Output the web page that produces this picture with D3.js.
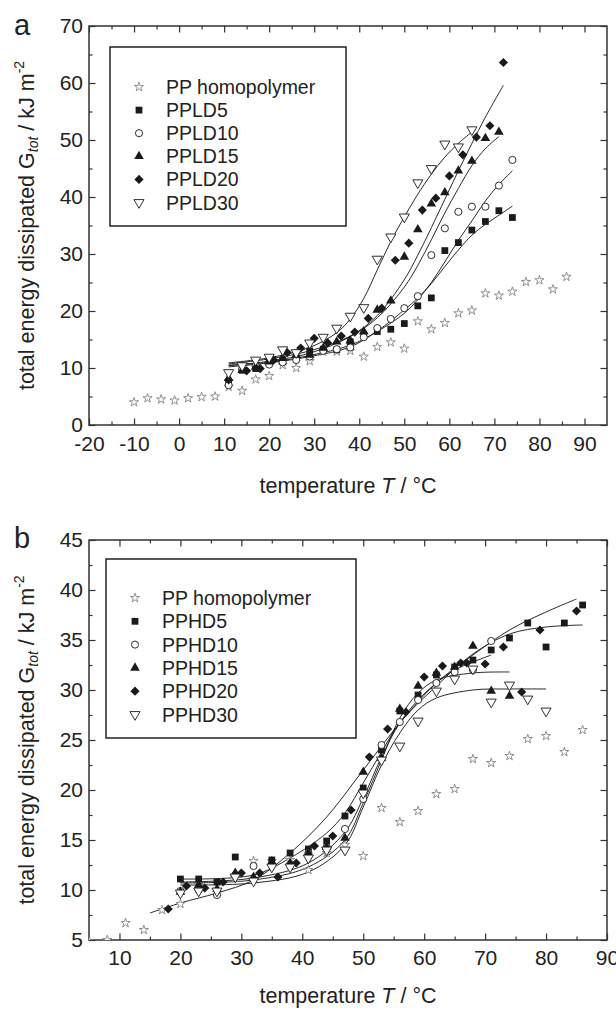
<!DOCTYPE html>
<html>
<head>
<meta charset="utf-8">
<script src="https://cdn.jsdelivr.net/npm/d3@7"></script>
<style>
  body { margin: 0; background: #fff; }
  svg { display: block; }
  text { font-family: "Liberation Sans", Arial, sans-serif; fill: #222; }
</style>
</head>
<body>
<script>
var width = 616;
var height = 1012;

// PP homopolymer (shown in both panels)
var ppT = [-10, -7, -4, -1, 2, 5, 8, 11, 14, 17, 20, 23, 26, 29, 32, 35, 38, 41, 44, 47, 50, 53, 56, 59, 62, 65, 68, 71, 74, 77, 80, 83, 86];
var ppG = [4.0, 4.7, 4.5, 4.3, 4.7, 4.9, 5.0, 6.7, 6.0, 8.0, 8.6, 10.5, 10.0, 11.2, 12.9, 12.9, 13.0, 12.0, 13.7, 14.5, 13.4, 18.2, 16.8, 17.9, 19.6, 20.1, 23.1, 22.7, 23.4, 25.1, 25.4, 23.8, 26.0];

// panel a - PPLD blends
var ld5T = [11, 14, 17, 20, 23, 26, 29, 32, 35, 38, 41, 44, 47, 50, 53, 56, 59, 62, 65, 68, 71, 74];
var ld5G = [7.6, 9.6, 9.9, 11.1, 11.4, 12.0, 13.0, 13.3, 13.2, 14.6, 15.8, 16.4, 16.8, 17.8, 20.9, 22.3, 30.6, 32.0, 34.2, 35.7, 37.6, 36.4];
var ld10T = [11, 14, 17, 20, 23, 26, 29, 32, 35, 38, 41, 44, 47, 50, 53, 56, 59, 62, 65, 68, 71, 74];
var ld10G = [7.0, 9.8, 10.4, 10.6, 11.0, 11.4, 12.0, 13.0, 13.3, 13.6, 15.4, 17.0, 18.6, 20.5, 22.6, 29.8, 34.5, 37.4, 38.3, 38.3, 42.0, 46.5];
var ld15T = [11, 14, 17, 20, 23, 26, 29, 32, 35, 38, 41, 44, 47, 50, 53, 56, 59, 62, 65, 68, 71];
var ld15G = [8.2, 9.6, 10.2, 11.1, 11.7, 12.3, 12.3, 13.5, 14.6, 14.8, 16.4, 20.2, 21.8, 29.5, 34.3, 38.8, 40.8, 44.6, 46.3, 50.3, 51.4];
var ld20T = [11, 15, 18, 21, 24, 27, 30, 33, 36, 39, 42, 45, 48, 51, 54, 57, 60, 63, 66, 69, 72];
var ld20G = [7.9, 9.5, 9.9, 11.4, 12.7, 13.5, 15.2, 14.4, 15.6, 16.3, 18.7, 20.5, 28.9, 31.9, 37.7, 39.8, 43.7, 47.4, 50.5, 52.5, 63.6];
var ld30T = [11, 14, 17, 20, 23, 26, 29, 32, 35, 38, 41, 44, 47, 50, 53, 56, 59, 62, 65];
var ld30G = [9.2, 10.4, 11.4, 11.9, 13.2, 12.7, 14.4, 15.4, 17.0, 19.1, 20.6, 29.1, 33.0, 36.5, 42.5, 45.0, 49.3, 48.8, 51.8];

// panel a - fitted curves
var ld5FitT = [11, 20, 29, 38, 44, 50, 53, 56, 59, 62, 65, 68, 71, 74];
var ld5FitG = [10.2, 10.9, 12.0, 13.7, 16.5, 20.2, 22.3, 24.8, 27.8, 30.7, 33.3, 35.2, 36.8, 38.4];
var ld10FitT = [11, 20, 29, 38, 44, 50, 53, 56, 59, 62, 65, 68, 71, 74];
var ld10FitG = [10.5, 11.0, 12.2, 14.0, 16.4, 19.6, 22.0, 25.0, 28.6, 32.4, 35.8, 39.3, 42.2, 44.6];
var ld15FitT = [11, 20, 29, 38, 44, 50, 53, 56, 59, 62, 65, 68, 71];
var ld15FitG = [10.4, 11.2, 12.6, 15.5, 18.8, 24.2, 28.0, 32.5, 37.2, 41.5, 45.5, 48.5, 50.6];
var ld20FitT = [11, 20, 29, 38, 44, 50, 53, 56, 59, 62, 65, 68, 72];
var ld20FitG = [10.7, 11.6, 13.0, 15.6, 19.2, 25.5, 29.8, 34.6, 39.6, 44.6, 49.4, 54.0, 59.6];
var ld30FitT = [11, 20, 29, 35, 38, 41, 44, 47, 50, 53, 56, 59, 62, 65];
var ld30FitG = [10.9, 11.8, 13.6, 16.2, 18.6, 22.2, 27.2, 32.2, 36.5, 40.5, 44.0, 47.0, 49.4, 51.4];

// panel b - PPHD blends
var hd5T = [20, 23, 26, 29, 35, 38, 41, 44, 47, 50, 53, 56, 59, 62, 65, 68, 71, 74, 77, 80, 83, 86];
var hd5G = [11.1, 11.1, 10.8, 13.3, 13.0, 13.7, 14.1, 14.9, 17.4, 20.2, 24.0, 27.9, 29.5, 31.5, 32.3, 33.0, 34.0, 35.2, 36.7, 34.3, 36.7, 38.5];
var hd10T = [20, 23, 26, 29, 32, 35, 38, 41, 44, 47, 50, 53, 56, 59, 62, 65, 68, 71];
var hd10G = [9.9, 10.0, 9.5, 11.5, 12.4, 12.5, 12.5, 13.7, 14.3, 16.1, 19.1, 24.5, 26.8, 29.0, 30.7, 31.8, 32.0, 34.9];
var hd15T = [20, 23, 26, 29, 32, 35, 38, 41, 44, 47, 50, 53, 56, 59, 62, 65, 68, 71, 74];
var hd15G = [9.8, 10.5, 10.1, 11.7, 11.3, 12.8, 12.7, 13.7, 14.3, 15.2, 21.8, 23.2, 28.1, 30.4, 31.7, 32.3, 34.4, 29.9, 29.4];
var hd20T = [18, 21, 24, 27, 30, 33, 36, 39, 42, 45, 48, 51, 54, 57, 60, 63, 66, 67, 70, 73, 76, 79, 85];
var hd20G = [8.1, 10.4, 10.2, 10.8, 11.7, 11.7, 11.3, 12.7, 14.4, 15.4, 18.0, 23.3, 26.1, 27.8, 31.3, 32.4, 32.7, 32.7, 32.6, 34.3, 29.8, 36.0, 37.9];
var hd30T = [20, 23, 26, 29, 32, 35, 38, 41, 44, 47, 50, 53, 56, 59, 62, 65, 68, 71, 74, 77, 80];
var hd30G = [9.7, 9.9, 9.9, 11.3, 10.9, 12.3, 12.3, 13.2, 14.0, 14.0, 19.7, 23.0, 24.4, 26.9, 29.9, 31.1, 32.1, 28.8, 30.5, 29.1, 27.9];

// panel b - fitted curves
var hd5FitT = [20, 32, 38, 44, 47, 50, 53, 56, 62, 68, 74, 80, 86];
var hd5FitG = [11.1, 11.5, 13.2, 15.7, 17.7, 20.7, 23.8, 26.7, 30.4, 33.6, 35.6, 36.3, 36.5];
var hd10FitT = [20, 32, 41, 47, 50, 53, 56, 59, 62, 65, 68, 71];
var hd10FitG = [10.8, 11.2, 12.7, 15.8, 19.2, 23.3, 26.7, 29.0, 30.7, 32.0, 32.8, 33.5];
var hd15FitT = [20, 32, 41, 47, 50, 53, 56, 59, 62, 68, 74];
var hd15FitG = [10.7, 11.0, 12.3, 15.0, 18.7, 23.0, 27.2, 29.7, 31.0, 31.7, 31.8];
var hd20FitT = [15, 20, 26, 32, 38, 44, 50, 56, 62, 68, 74, 80, 85];
var hd20FitG = [7.7, 8.7, 9.7, 11.0, 13.7, 17.3, 22.0, 26.7, 30.7, 33.5, 36.0, 37.8, 39.1];
var hd30FitT = [20, 32, 41, 47, 50, 53, 56, 59, 62, 68, 74, 80];
var hd30FitG = [10.5, 10.7, 11.8, 14.5, 18.3, 22.5, 25.7, 28.0, 29.2, 30.0, 30.1, 30.1];

var legendA = ["PP homopolymer", "PPLD5", "PPLD10", "PPLD15", "PPLD20", "PPLD30"];
var legendB = ["PP homopolymer", "PPHD5", "PPHD10", "PPHD15", "PPHD20", "PPHD30"];

function zip(t, g) { return t.map(function (d, i) { return { t: d, g: g[i] }; }); }

var markers = ["star", "square", "circle", "triangle", "diamond", "down"];
var plain = function (d) { return String(d); };   // hyphen minus like the original

var svg = d3.select("body").append("svg")
    .attr("width", width)
    .attr("height", height);

function drawMarker(sel, kind) {
    var sym, size, fill = "#1a1a1a", stroke = "none", sw = 0;
    if (kind == "star") { sym = d3.symbolStar; size = 26; fill = "#fff"; stroke = "#777"; sw = 0.8; }
    if (kind == "square") { sym = d3.symbolSquare; size = 46; }
    if (kind == "circle") { sym = d3.symbolCircle; size = 40; fill = "#fff"; stroke = "#1a1a1a"; sw = 0.9; }
    if (kind == "triangle") { sym = d3.symbolTriangle; size = 40; }
    if (kind == "diamond") { sym = d3.symbolSquare; size = 42; }
    if (kind == "down") { sym = d3.symbolTriangle; size = 44; fill = "#fff"; stroke = "#1a1a1a"; sw = 0.9; }
    sel.attr("d", d3.symbol().type(sym).size(size)())
        .attr("fill", fill)
        .attr("stroke", stroke)
        .attr("stroke-width", sw);
}
function rot(kind) {
    if (kind == "down") return " rotate(180)";
    if (kind == "diamond") return " rotate(45)";
    return "";
}

function panel(opt) {
    var x = d3.scaleLinear().domain(opt.xDomain).range([89, 607]);
    var y = d3.scaleLinear().domain(opt.yDomain).range([opt.bottom, opt.top]);
    var g = svg.append("g");

    var clipId = "clip-" + opt.name;
    svg.append("clipPath").attr("id", clipId)
        .append("rect")
        .attr("x", 89).attr("y", opt.top)
        .attr("width", 518).attr("height", opt.bottom - opt.top);

    // minor ticks
    var axes = [
        [d3.axisBottom(x), opt.bottom, opt.xMinor, "x"],
        [d3.axisTop(x), opt.top, opt.xMinor, "x"],
        [d3.axisLeft(y), 89, opt.yMinor, "y"],
        [d3.axisRight(y), 607, opt.yMinor, "y"]
    ];
    axes.forEach(function (a) {
        var tr = a[3] == "x" ? "translate(0," + a[1] + ")" : "translate(" + a[1] + ",0)";
        g.append("g").attr("transform", tr)
            .call(a[0].tickValues(a[2]).tickSize(-3.5).tickFormat(""))
            .call(function (s) { s.select(".domain").remove(); });
    });

    // major ticks + labels
    g.append("g").attr("transform", "translate(0," + opt.bottom + ")")
        .call(d3.axisBottom(x).tickValues(opt.xTicks).tickSize(-6.5).tickPadding(opt.xPad).tickFormat(plain))
        .call(function (s) { s.select(".domain").remove(); });
    g.append("g").attr("transform", "translate(0," + opt.top + ")")
        .call(d3.axisTop(x).tickValues(opt.xTicks).tickSize(-6.5).tickFormat(""))
        .call(function (s) { s.select(".domain").remove(); });
    g.append("g").attr("transform", "translate(89,0)")
        .call(d3.axisLeft(y).tickValues(opt.yTicks).tickSize(-6.5).tickPadding(6).tickFormat(plain))
        .call(function (s) { s.select(".domain").remove(); });
    g.append("g").attr("transform", "translate(607,0)")
        .call(d3.axisRight(y).tickValues(opt.yTicks).tickSize(-6.5).tickFormat(""))
        .call(function (s) { s.select(".domain").remove(); });
    g.selectAll(".tick line").attr("stroke", "#333").attr("stroke-width", 1.2);
    g.selectAll(".tick text")
        .attr("font-family", "Liberation Sans, Arial, sans-serif")
        .attr("font-size", 21)
        .attr("fill", "#222");

    g.append("rect")
        .attr("x", 89).attr("y", opt.top)
        .attr("width", 518).attr("height", opt.bottom - opt.top)
        .attr("fill", "none").attr("stroke", "#333").attr("stroke-width", 1.5);

    // fitted curves
    var line = d3.line().x(function (d) { return x(d.t); }).y(function (d) { return y(d.g); })
        .curve(d3.curveCatmullRom.alpha(0.5));
    var plot = g.append("g").attr("clip-path", "url(#" + clipId + ")");
    opt.fits.forEach(function (f) {
        plot.append("path").datum(zip(f[0], f[1]))
            .attr("fill", "none").attr("stroke", "#111").attr("stroke-width", 0.9)
            .attr("d", line);
    });

    // points
    opt.series.forEach(function (s, k) {
        plot.selectAll(null).data(zip(s[0], s[1])).enter().append("path")
            .call(drawMarker, markers[k])
            .attr("transform", function (d) {
                return "translate(" + x(d.t) + "," + y(d.g) + ")" + rot(markers[k]);
            });
    });

    // legend
    var lg = g.append("g");
    lg.append("rect")
        .attr("x", opt.legend.x).attr("y", opt.legend.y)
        .attr("width", opt.legend.w).attr("height", opt.legend.h)
        .attr("fill", "#fff").attr("stroke", "#222").attr("stroke-width", 1.5);
    opt.legend.labels.forEach(function (lab, k) {
        var ry = opt.legend.row0 + k * opt.legend.step;
        lg.append("path").call(drawMarker, markers[k])
            .attr("transform", "translate(" + (opt.legend.x + 29) + "," + ry + ")" + rot(markers[k]));
        lg.append("text")
            .attr("x", opt.legend.x + 56).attr("y", ry).attr("dy", "0.36em")
            .attr("font-size", 19.5)
            .text(lab);
    });

    // axis titles
    var cx = (89 + 607) / 2;
    var xt = g.append("text").attr("x", cx).attr("y", opt.bottom + opt.titleDy)
        .attr("text-anchor", "middle").attr("font-size", 21.5);
    xt.append("tspan").text("temperature ");
    xt.append("tspan").attr("font-style", "italic").text("T");
    xt.append("tspan").text(" / \u00b0C");

    var cy = (opt.top + opt.bottom) / 2;
    var yt = g.append("text")
        .attr("transform", "translate(34," + cy + ") rotate(-90)")
        .attr("text-anchor", "middle").attr("font-size", 21.5);
    yt.append("tspan").text("total energy dissipated G");
    yt.append("tspan").attr("font-style", "italic").attr("font-size", 14).attr("baseline-shift", "-30%").text("tot");
    yt.append("tspan").text(" / kJ m");
    yt.append("tspan").attr("font-size", 14).attr("baseline-shift", "70%").text("-2");

    g.append("text").attr("x", 14).attr("y", opt.top + opt.letterDy)
        .attr("font-size", 29).text(opt.name);
}

panel({
    name: "a", top: 26, bottom: 425, letterDy: 9, xPad: 11, titleDy: 68,
    xDomain: [-20, 95], yDomain: [0, 70],
    xTicks: d3.range(-20, 91, 10), xMinor: d3.range(-15, 95, 10),
    yTicks: d3.range(0, 71, 10), yMinor: d3.range(5, 70, 10),
    series: [[ppT, ppG], [ld5T, ld5G], [ld10T, ld10G], [ld15T, ld15G], [ld20T, ld20G], [ld30T, ld30G]],
    fits: [[ld5FitT, ld5FitG], [ld10FitT, ld10FitG], [ld15FitT, ld15FitG], [ld20FitT, ld20FitG], [ld30FitT, ld30FitG]],
    legend: { x: 110, y: 47, w: 236, h: 179, row0: 87, step: 23.1, labels: legendA }
});

panel({
    name: "b", top: 540, bottom: 940, letterDy: 8, xPad: 10, titleDy: 63,
    xDomain: [5, 90], yDomain: [5, 45],
    xTicks: d3.range(10, 91, 10), xMinor: d3.range(15, 90, 10),
    yTicks: d3.range(5, 46, 5), yMinor: d3.range(7.5, 45, 5),
    series: [[ppT, ppG], [hd5T, hd5G], [hd10T, hd10G], [hd15T, hd15G], [hd20T, hd20G], [hd30T, hd30G]],
    fits: [[hd5FitT, hd5FitG], [hd10FitT, hd10FitG], [hd15FitT, hd15FitG], [hd20FitT, hd20FitG], [hd30FitT, hd30FitG]],
    legend: { x: 106, y: 559, w: 250, h: 179, row0: 598, step: 23.3, labels: legendB }
});
</script>
</body>
</html>
